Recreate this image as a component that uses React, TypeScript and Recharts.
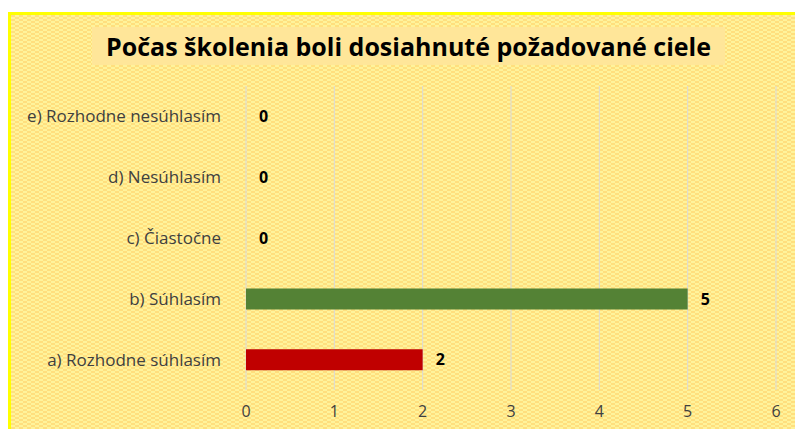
import React from 'react'
import { BarChart, Bar, XAxis, YAxis, CartesianGrid, Cell, LabelList } from 'recharts'

const categories = [
  'a) Rozhodne súhlasím',
  'b) Súhlasím',
  'c) Čiastočne',
  'd) Nesúhlasím',
  'e) Rozhodne nesúhlasím',
]
const counts = [2, 5, 0, 0, 0]
const barColors = ['#C00000', '#548235', '#A5A5A5', '#FFC000', '#4472C4']
const xTicks = [0, 1, 2, 3, 4, 5, 6]
const title = 'Počas školenia boli dosiahnuté požadované ciele'

const FONT = '"Open Sans", "Noto Sans", sans-serif'

const patternSvg =
  "data:image/svg+xml;utf8," +
  encodeURIComponent(
    "<svg xmlns='http://www.w3.org/2000/svg' width='8' height='4'>" +
      "<rect width='8' height='4' fill='#FFF39B'/>" +
      "<rect x='0' y='0' width='4' height='2' fill='#FFDF7E'/>" +
      "<rect x='4' y='2' width='4' height='2' fill='#FFDF7E'/>" +
      '</svg>'
  )

export default function App() {
  const data = categories.map((name, i) => ({ name, value: counts[i], color: barColors[i] }))

  return (
    <div
      style={{
        position: 'absolute',
        left: 0,
        top: 0,
        width: 795,
        height: 429,
        background: '#fff',
        overflow: 'hidden',
        fontFamily: FONT,
      }}
    >
      {/* frame */}
      <div
        style={{
          position: 'absolute',
          left: 8,
          top: 12,
          width: 800,
          height: 430,
          border: '3px solid #FFFF00',
          backgroundImage: `url("${patternSvg}")`,
          boxSizing: 'border-box',
        }}
      />
      {/* title */}
      <div
        style={{
          position: 'absolute',
          left: 92,
          top: 27,
          width: 633,
          height: 38,
          background: '#FFE699',
          textAlign: 'center',
          lineHeight: '38px',
          fontSize: 25,
          fontWeight: 700,
          color: '#000',
          whiteSpace: 'nowrap',
        }}
      >
        {title}
      </div>
      <div style={{ position: 'absolute', left: 0, top: 0 }}>
        <BarChart
          width={795}
          height={429}
          data={data}
          layout="vertical"
          margin={{ top: 86, right: 19, bottom: 9, left: 10 }}
        >
          <CartesianGrid horizontal={false} stroke="#D9D9D9" strokeWidth={1} />
          <XAxis
            type="number"
            domain={[0, 6]}
            ticks={xTicks}
            axisLine={false}
            tickLine={false}
            height={30}
            tick={{ fill: '#404040', fontSize: 16, fontFamily: FONT }}
            tickMargin={10}
          />
          <YAxis
            type="category"
            dataKey="name"
            reversed
            width={236}
            axisLine={false}
            tickLine={false}
            tick={{ fill: '#404040', fontSize: 17, fontFamily: FONT, dx: -17 }}
          />
          <Bar dataKey="value" barSize={21} minPointSize={0.01} isAnimationActive={false}>
            {data.map((d, i) => (
              <Cell key={`c-${i}`} fill={d.color} />
            ))}
            <LabelList
              dataKey="value"
              position="right"
              offset={13}
              fill="#000"
              fontSize={16}
              fontWeight={700}
              fontFamily={FONT}
            />
          </Bar>
        </BarChart>
      </div>
    </div>
  )
}
